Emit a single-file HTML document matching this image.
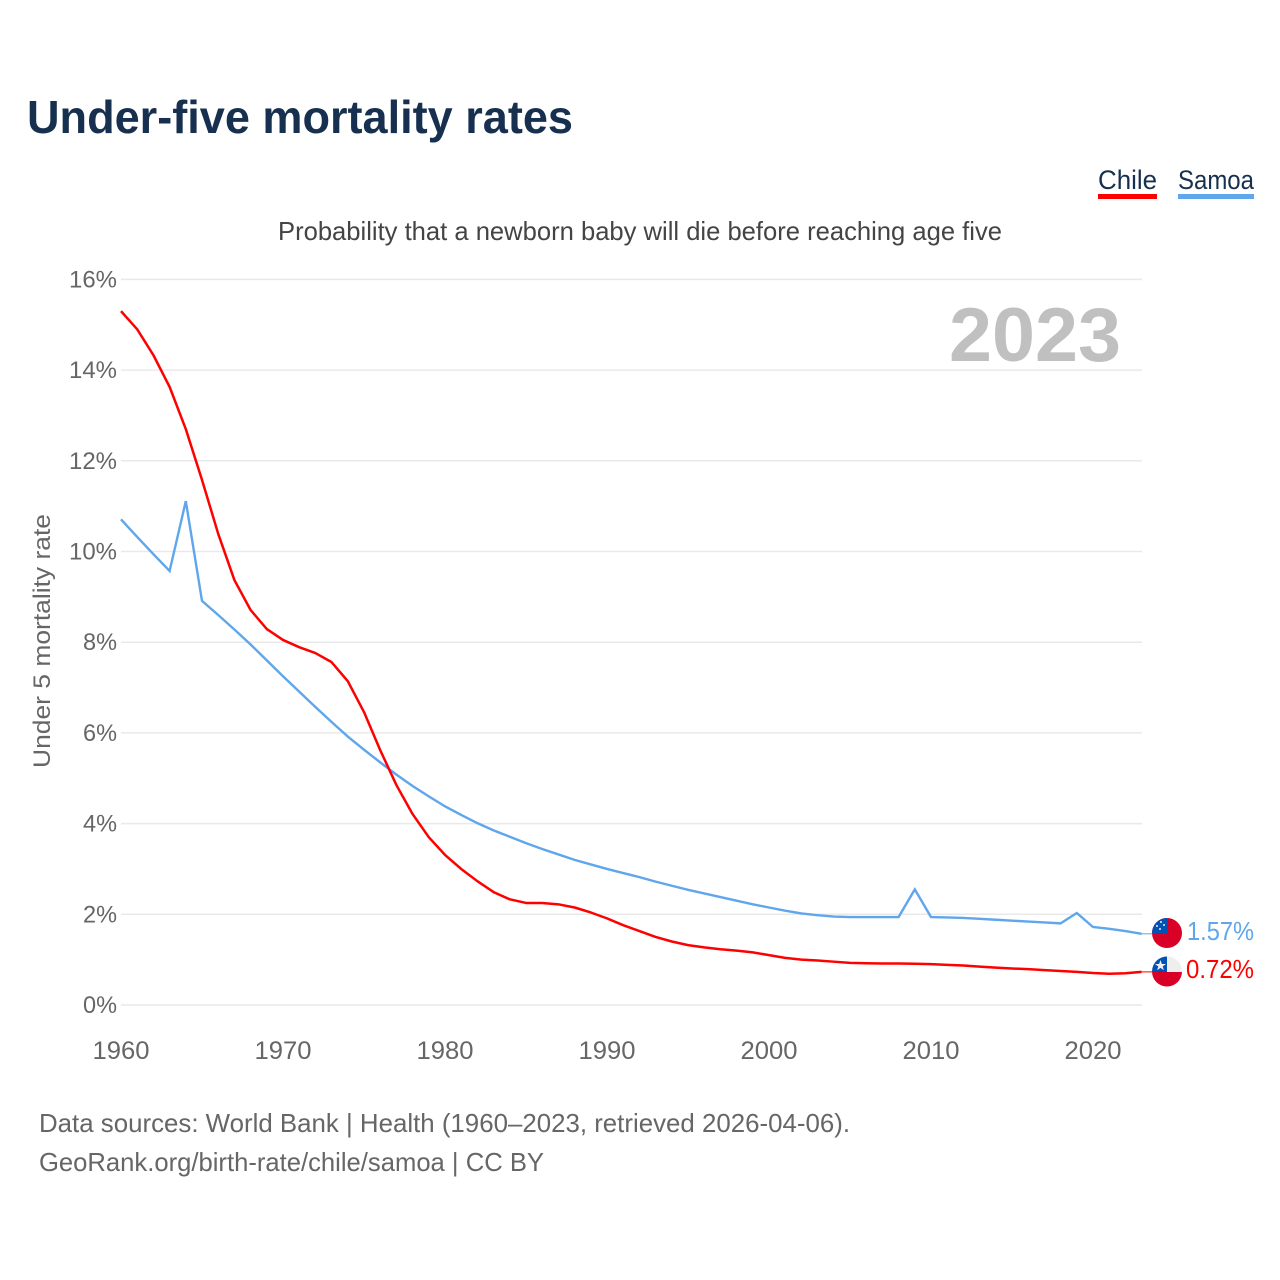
<!DOCTYPE html>
<html lang="en">
<head>
<meta charset="utf-8">
<title>Under-five mortality rates</title>
<style>
html,body{margin:0;padding:0;background:#fff;}
svg{display:block;font-family:"Liberation Sans",Arial,sans-serif;}
</style>
</head>
<body>
<svg id="chart" xmlns="http://www.w3.org/2000/svg" width="1280" height="1280" viewBox="0 0 1280 1280">
  <rect width="1280" height="1280" fill="#ffffff"/>
  <text x="27" y="133" font-size="46" font-weight="700" fill="#17304f" textLength="546" lengthAdjust="spacingAndGlyphs">Under-five mortality rates</text>

  <g>
    <g>
      <text x="1098" y="189" font-size="27" fill="#17304f" textLength="59" lengthAdjust="spacingAndGlyphs">Chile</text>
      <rect x="1098" y="194" width="59" height="5" fill="#ff0000"/>
    </g>
    <g>
      <text x="1178" y="189" font-size="27" fill="#17304f" textLength="76" lengthAdjust="spacingAndGlyphs">Samoa</text>
      <rect x="1178" y="194" width="76" height="5" fill="#5fa6ec"/>
    </g>
  </g>

  <text x="278" y="240" font-size="26" fill="#444444" textLength="724" lengthAdjust="spacingAndGlyphs">Probability that a newborn baby will die before reaching age five</text>

  <g id="grid"></g>
  <g id="yticks"></g>
  <g id="xticks"></g>

  <text x="949" y="361" font-size="76" font-weight="700" fill="#c0c0c0" textLength="172" lengthAdjust="spacingAndGlyphs">2023</text>

  <text transform="translate(50,768) rotate(-90)" x="0" y="0" font-size="24.5" fill="#666666" textLength="254" lengthAdjust="spacingAndGlyphs">Under 5 mortality rate</text>

  <g id="series"></g>

  <defs>
    <clipPath id="flag-clip-samoa"><circle cx="1167" cy="933" r="15"/></clipPath>
    <clipPath id="flag-clip-chile"><circle cx="1167" cy="971.5" r="15"/></clipPath>
  </defs>

  <g clip-path="url(#flag-clip-samoa)">
    <rect x="1152" y="918" width="30" height="30" fill="#d80027"/>
    <rect x="1152" y="918" width="15" height="15" fill="#0052b4"/>
    <circle cx="1161" cy="922" r="1" fill="#eeeeee"/>
    <circle cx="1157" cy="926" r="1" fill="#eeeeee"/>
    <circle cx="1164" cy="925" r="1" fill="#eeeeee"/>
    <circle cx="1160" cy="929" r="1" fill="#eeeeee"/>
  </g>
  <text x="1187" y="940" font-size="26" fill="#5fa6ec" textLength="67" lengthAdjust="spacingAndGlyphs">1.57%</text>

  <g clip-path="url(#flag-clip-chile)">
    <rect x="1152" y="956" width="30" height="16" fill="#eeeeee"/>
    <rect x="1152" y="972" width="30" height="16" fill="#d80027"/>
    <rect x="1152" y="956" width="15" height="16" fill="#0052b4"/>
    <polygon points="1160.5,960 1161.9,964 1166,964 1162.7,966.4 1163.9,970.3 1160.5,967.9 1157.1,970.3 1158.3,966.4 1155,964 1159.1,964" fill="#eeeeee"/>
  </g>
  <text x="1186" y="978" font-size="26" fill="#ff0000" textLength="68" lengthAdjust="spacingAndGlyphs">0.72%</text>

  <text x="39" y="1132" font-size="26" fill="#666666" textLength="811" lengthAdjust="spacingAndGlyphs">Data sources: World Bank | Health (1960–2023, retrieved 2026-04-06).</text>
  <text x="39" y="1171" font-size="26" fill="#666666" textLength="505" lengthAdjust="spacingAndGlyphs">GeoRank.org/birth-rate/chile/samoa | CC BY</text>
</svg>
<script>
const startYear = 1960;
const xTickYears = [1960, 1970, 1980, 1990, 2000, 2010, 2020];
const yTickValues = [0, 2, 4, 6, 8, 10, 12, 14, 16];
const chileValues = [
  15.30, 14.90, 14.33, 13.63, 12.70, 11.58, 10.39, 9.37, 8.71, 8.29,
  8.05, 7.89, 7.76, 7.56, 7.14, 6.46, 5.62, 4.85, 4.21, 3.70,
  3.31, 3.00, 2.73, 2.49, 2.33, 2.25, 2.25, 2.22, 2.15, 2.04,
  1.91, 1.76, 1.63, 1.50, 1.40, 1.32, 1.27, 1.23, 1.20, 1.16,
  1.10, 1.04, 1.00, 0.98, 0.955, 0.93, 0.92, 0.915, 0.915, 0.91,
  0.90, 0.885, 0.87, 0.845, 0.825, 0.805, 0.79, 0.77, 0.75, 0.73,
  0.705, 0.69, 0.70, 0.73
];
const samoaValues = [
  10.71, 10.32, 9.94, 9.57, 11.11, 8.91, 8.60, 8.28, 7.95, 7.60,
  7.25, 6.91, 6.57, 6.24, 5.92, 5.63, 5.35, 5.08, 4.83, 4.60,
  4.38, 4.19, 4.01, 3.85, 3.71, 3.57, 3.44, 3.32, 3.20, 3.10,
  3.00, 2.91, 2.82, 2.72, 2.63, 2.54, 2.46, 2.38, 2.30, 2.22,
  2.15, 2.08, 2.02, 1.98, 1.95, 1.94, 1.94, 1.94, 1.94, 2.55,
  1.94, 1.93, 1.92, 1.90, 1.88, 1.86, 1.84, 1.82, 1.80, 2.03,
  1.72, 1.68, 1.63, 1.57
];

const NS = 'http://www.w3.org/2000/svg';
function xScale(year) { return 121 + (year - 1960) * 16.2; }
function yScale(v) { return 1005 - v * 45.35; }

const grid = document.getElementById('grid');
const yticks = document.getElementById('yticks');
yTickValues.forEach(function (v) {
  const line = document.createElementNS(NS, 'line');
  
  
  line.setAttribute('x1', 121);
  line.setAttribute('x2', 1142);
  line.setAttribute('y1', yScale(v));
  line.setAttribute('y2', yScale(v));
  line.setAttribute('stroke', '#e9e9e9');
  line.setAttribute('stroke-width', '1.5');
  grid.appendChild(line);

  const t = document.createElementNS(NS, 'text');
  
  
  const label = v + '%';
  t.setAttribute('x', label.length === 3 ? 69 : 83);
  t.setAttribute('y', yScale(v) + 8);
  t.setAttribute('font-size', '24.5');
  t.setAttribute('fill', '#666666');
  t.setAttribute('textLength', label.length === 3 ? 48 : 34);
  t.setAttribute('lengthAdjust', 'spacingAndGlyphs');
  t.textContent = label;
  yticks.appendChild(t);
});

const xticks = document.getElementById('xticks');
xTickYears.forEach(function (yr) {
  const t = document.createElementNS(NS, 'text');
  
  
  t.setAttribute('x', xScale(yr) - 28.5);
  t.setAttribute('y', 1059);
  t.setAttribute('font-size', '25');
  t.setAttribute('fill', '#666666');
  t.setAttribute('textLength', 57);
  t.setAttribute('lengthAdjust', 'spacingAndGlyphs');
  t.textContent = String(yr);
  xticks.appendChild(t);
});

const seriesGroup = document.getElementById('series');
function linePoints(values) {
  return values.map(function (v, i) {
    return xScale(startYear + i).toFixed(2) + ',' + yScale(v).toFixed(2);
  }).join(' ');
}

const samoaLine = document.createElementNS(NS, 'polyline');


samoaLine.setAttribute('points', linePoints(samoaValues));
samoaLine.setAttribute('fill', 'none');
samoaLine.setAttribute('stroke', '#5fa6ec');
samoaLine.setAttribute('stroke-width', '2.4');
samoaLine.setAttribute('stroke-linejoin', 'miter');
seriesGroup.appendChild(samoaLine);

const chileLine = document.createElementNS(NS, 'polyline');


chileLine.setAttribute('points', linePoints(chileValues));
chileLine.setAttribute('fill', 'none');
chileLine.setAttribute('stroke', '#ff0000');
chileLine.setAttribute('stroke-width', '2.5');
chileLine.setAttribute('stroke-linejoin', 'round');
seriesGroup.appendChild(chileLine);

const samoaLeader = document.createElementNS(NS, 'line');


samoaLeader.setAttribute('x1', xScale(2023));
samoaLeader.setAttribute('x2', 1152);
samoaLeader.setAttribute('y1', yScale(samoaValues[samoaValues.length - 1]));
samoaLeader.setAttribute('y2', yScale(samoaValues[samoaValues.length - 1]));
samoaLeader.setAttribute('stroke', '#5fa6ec');
samoaLeader.setAttribute('stroke-width', '1');
seriesGroup.appendChild(samoaLeader);

const chileLeader = document.createElementNS(NS, 'line');


chileLeader.setAttribute('x1', xScale(2023));
chileLeader.setAttribute('x2', 1152);
chileLeader.setAttribute('y1', yScale(chileValues[chileValues.length - 1]));
chileLeader.setAttribute('y2', yScale(chileValues[chileValues.length - 1]));
chileLeader.setAttribute('stroke', '#ff0000');
chileLeader.setAttribute('stroke-width', '1');
seriesGroup.appendChild(chileLeader);
</script>
</body>
</html>
